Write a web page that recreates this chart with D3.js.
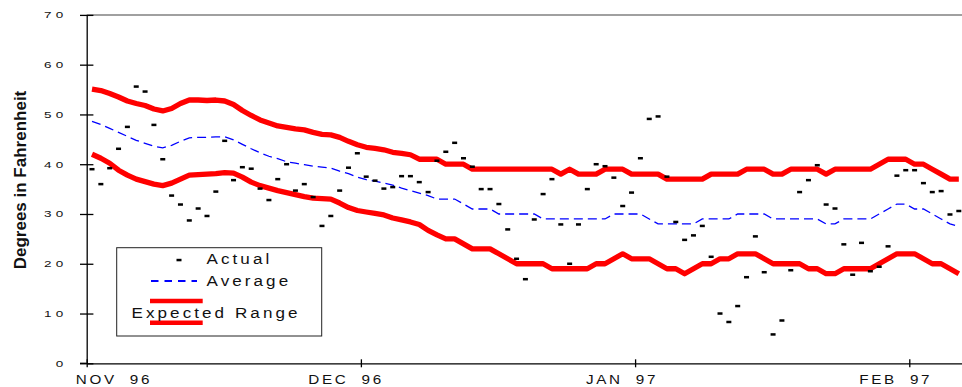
<!DOCTYPE html>
<html>
<head>
<meta charset="utf-8">
<script src="https://cdn.jsdelivr.net/npm/d3@7"></script>
<style>
  body { margin: 0; background: #fff; }
  svg { display: block; font-family: "Liberation Sans", Arial, sans-serif; }
</style>
</head>
<body>
<script>
// daily readings, first day at index 0
var actual = [39.0, 36.0, 39.2, 43.1, 47.5, 55.6, 54.6, 47.9, 41.0, 33.7,
  31.9, 28.7, 31.1, 29.6, 34.5, 44.7, 36.8, 39.4, 39.1, 35.1,
  32.8, 37.0, 40.0, 34.7, 36.0, 33.4, 27.6, 29.6, 34.7, 39.3,
  42.2, 37.5, 36.7, 35.1, 35.4, 37.6, 37.6, 36.4, 34.4, 40.7,
  42.5, 44.3, 41.2, 39.5, 35.0, 35.0, 32.0, 26.9, 21.0, 16.9,
  28.9, 34.0, 37.0, 27.9, 20.0, 27.9, 35.0, 40.0, 39.6, 37.3,
  31.6, 34.3, 41.2, 49.1, 49.6, 37.5, 28.4, 24.8, 25.7, 27.6,
  21.4, 10.0, 8.3, 11.5, 17.3, 25.5, 18.3, 5.8, 8.6, 18.7,
  34.4, 36.8, 39.8, 31.9, 31.1, 23.9, 17.8, 24.2, 18.5, 19.4,
  23.5, 37.7, 38.8, 38.8, 36.2, 34.4, 34.6, 29.9, 30.6];

var average = [48.6, 48.0, 47.2, 46.4, 45.6, 44.8, 44.2, 43.6, 43.3, 43.8,
  44.6, 45.3, 45.4, 45.4, 45.5, 45.5, 44.9, 44.0, 43.1, 42.3,
  41.6, 41.1, 40.5, 40.2, 39.9, 39.6, 39.4, 39.2, 38.6, 38.1,
  37.4, 36.9, 36.6, 36.2, 35.8, 35.2, 34.7, 34.2, 33.7, 33,
  33, 33, 32, 31, 31, 31, 30, 30, 30, 30,
  30, 29, 29, 29, 29, 29, 29, 29, 29, 30,
  30, 30, 30, 29, 28, 28, 28, 28, 28, 29,
  29, 29, 29, 30, 30, 30, 30, 29, 29, 29,
  29, 29, 29, 28, 28, 29, 29, 29, 29, 30,
  31, 32, 32, 31, 31, 30, 29, 28, 27.5];

var upper = [55.1, 54.8, 54.2, 53.5, 52.7, 52.2, 51.8, 51.1, 50.7, 51.2,
  52.2, 52.9, 52.9, 52.8, 52.9, 52.7, 52.0, 50.8, 49.8, 48.9,
  48.3, 47.7, 47.4, 47.1, 46.9, 46.4, 46.0, 45.9, 45.4, 44.6,
  43.9, 43.4, 43.2, 42.9, 42.4, 42.2, 41.9, 41, 41, 41,
  40, 40, 40, 39, 39, 39, 39, 39, 39, 39,
  39, 39, 39, 38, 39, 38, 38, 38, 39, 39,
  39, 38, 38, 38, 38, 37, 37, 37, 37, 37,
  38, 38, 38, 38, 39, 39, 39, 38, 38, 39,
  39, 39, 39, 38, 39, 39, 39, 39, 39, 40,
  41, 41, 41, 40, 40, 39, 38, 37, 37];

var lower = [42.0, 41.2, 40.2, 38.8, 37.8, 37.0, 36.5, 36.0, 35.7, 36.2,
  37.0, 37.8, 37.9, 38.0, 38.1, 38.3, 38.2, 37.4, 36.4, 35.7,
  35.2, 34.7, 34.3, 33.9, 33.5, 33.2, 33.1, 33.0, 32.2, 31.3,
  30.7, 30.4, 30.1, 29.8, 29.2, 28.8, 28.4, 27.9, 26.7, 25.8,
  25, 25, 24, 23, 23, 23, 22, 21, 20, 20,
  20, 20, 19, 19, 19, 19, 19, 20, 20, 21,
  22, 21, 21, 21, 20, 19, 19, 18, 19, 20,
  20, 21, 21, 22, 22, 22, 21, 20, 20, 20,
  20, 19, 19, 18, 18, 19, 19, 19, 19, 20,
  21, 22, 22, 22, 21, 20, 20, 19, 18];

var monthTicks = [0, 31, 62, 93];
var monthLabels = ["NOV 96", "DEC 96", "JAN 97", "FEB 97"];
var yTicks = [0, 10, 20, 30, 40, 50, 60, 70];
var legendLabels = ["Actual", "Average", "Expected Range"];
var yTitle = "Degrees in Fahrenheit";

const WIDTH = 962;
const HEIGHT = 387;
const LEFT = 86.7;
const TOP = 14.9;
const BOTTOM = 363.3;

var x = d3.scaleLinear().domain([0, 99]).range([LEFT, LEFT + 99 * 8.845]);
var y = d3.scaleLinear().domain([0, 70]).range([BOTTOM, TOP]);

var px = function(d, i) { return x(i + 0.6); };

var svg = d3.select('body').append('svg')
  .attr('width', WIDTH)
  .attr('height', HEIGHT);

// stretched text, the source rendering is wider than the font
var wideText = function(g, tx, ty, txt, size, sx, anchor, ls) {
  return g.append('text')
    .attr('transform', 'translate(' + tx + ',' + ty + ') scale(' + sx + ',1)')
    .attr('font-size', size)
    .attr('text-anchor', anchor)
    .attr('letter-spacing', ls)
    .attr('fill', '#111')
    .text(txt);
};

// top border of plot area
svg.append('line')
  .attr('x1', LEFT).attr('x2', WIDTH)
  .attr('y1', y(70)).attr('y2', y(70))
  .attr('stroke', '#808080').attr('stroke-width', 1.5);

// y axis, ticks crossing the line
var yAxis = d3.axisLeft(y).tickValues(yTicks).tickSizeOuter(0).tickFormat('');
var gy = svg.append('g').attr('transform', 'translate(' + LEFT + ',0)').call(yAxis);
gy.selectAll('.tick line').attr('x1', 6.7).attr('x2', -6.7);
gy.selectAll('line, path').attr('stroke', '#000').attr('stroke-width', 1.3);

yTicks.forEach(function(t) {
  wideText(svg, 67.5, y(t) + 3.3, String(t), 9, 1.5, 'end', 2.8);
});

// x axis
var xAxis = d3.axisBottom(x).tickValues(monthTicks).tickSizeOuter(0).tickFormat('');
var gx = svg.append('g').attr('transform', 'translate(0,' + BOTTOM + ')').call(xAxis);
gx.selectAll('.tick line').attr('y1', -4).attr('y2', 4);
gx.selectAll('line, path').attr('stroke', '#000').attr('stroke-width', 1.3);
svg.append('line')
  .attr('x1', LEFT - 6.7).attr('x2', LEFT)
  .attr('y1', BOTTOM).attr('y2', BOTTOM)
  .attr('stroke', '#000').attr('stroke-width', 1.3);

monthTicks.forEach(function(t, i) {
  var tx = i === 0 ? x(t) - 11 : x(t) + 23;
  wideText(svg, tx, 384, monthLabels[i], 12.5, 1.22, i === 0 ? 'start' : 'end', 2.2)
    .attr('word-spacing', 5);
});

// axis title
svg.append('text')
  .attr('transform', 'translate(26,180) rotate(-90)')
  .attr('text-anchor', 'middle')
  .attr('font-size', 17)
  .attr('font-weight', 'bold')
  .attr('fill', '#111')
  .text(yTitle);

// series
var line = d3.line()
  .x(px)
  .y(function(d) { return y(d); });

svg.append('path')
  .attr('d', line(upper))
  .attr('fill', 'none').attr('stroke', '#ff0000')
  .attr('stroke-width', 5.3).attr('stroke-linejoin', 'round');

svg.append('path')
  .attr('d', line(lower))
  .attr('fill', 'none').attr('stroke', '#ff0000')
  .attr('stroke-width', 5.3).attr('stroke-linejoin', 'round');

svg.append('path')
  .attr('d', line(average))
  .attr('fill', 'none').attr('stroke', '#0000ff')
  .attr('stroke-width', 1.3).attr('stroke-dasharray', '9,5');

svg.append('g').selectAll('rect')
  .data(actual)
  .enter()
  .append('rect')
  .attr('x', function(d, i) { return px(d, i) - 2.5; })
  .attr('y', function(d) { return y(d) - 1.25; })
  .attr('width', 5)
  .attr('height', 2.5)
  .attr('fill', '#000');

// legend
var lg = svg.append('g');
lg.append('rect')
  .attr('x', 116.7).attr('y', 247.7)
  .attr('width', 205).attr('height', 88.3)
  .attr('fill', '#fff').attr('stroke', '#222').attr('stroke-width', 1);

lg.append('rect')
  .attr('x', 176.5).attr('y', 258.8)
  .attr('width', 5).attr('height', 2.5)
  .attr('fill', '#000');
wideText(lg, 206.5, 264, legendLabels[0], 15.5, 1.1, 'start', 2.8);

lg.append('line')
  .attr('x1', 151).attr('x2', 197)
  .attr('y1', 281).attr('y2', 281)
  .attr('stroke', '#0000ff').attr('stroke-width', 2)
  .attr('stroke-dasharray', '7.5,6');
wideText(lg, 206.5, 286, legendLabels[1], 15.5, 1.1, 'start', 2.8);

[301, 322.7].forEach(function(ly) {
  lg.append('line')
    .attr('x1', 150).attr('x2', 202.7)
    .attr('y1', ly).attr('y2', ly)
    .attr('stroke', '#ff0000').attr('stroke-width', 4.5);
});
wideText(lg, 131.5, 318.3, legendLabels[2], 15.5, 1.1, 'start', 2.8);
</script>
</body>
</html>
